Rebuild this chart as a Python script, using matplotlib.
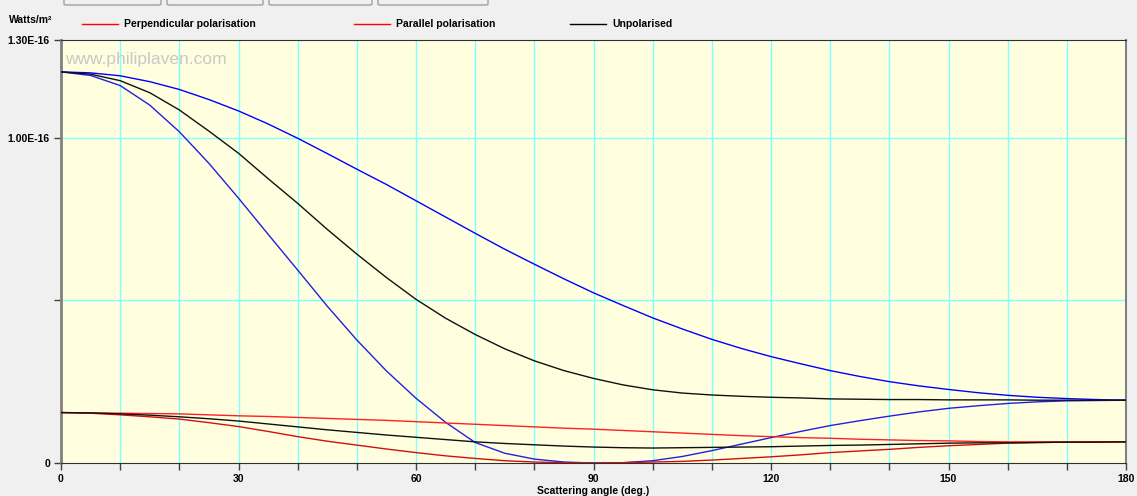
import numpy as np
import matplotlib.pyplot as plt
from matplotlib.patches import FancyBboxPatch

# scattering angle (deg.), every 5 degrees
angle = list(range(0, 181, 5))

# upper set (values in units of 1E-16 W/m^2)
blue_perp = [1.202, 1.199, 1.190, 1.172, 1.148, 1.117, 1.082, 1.042, 0.998, 0.951,
             0.903, 0.856, 0.806, 0.756, 0.706, 0.657, 0.611, 0.566, 0.523, 0.484,
             0.446, 0.412, 0.380, 0.352, 0.327, 0.305, 0.284, 0.266, 0.250, 0.237,
             0.226, 0.216, 0.208, 0.202, 0.198, 0.195, 0.193]
blue_par = [1.202, 1.191, 1.160, 1.100, 1.018, 0.921, 0.814, 0.703, 0.593, 0.482,
            0.378, 0.283, 0.199, 0.125, 0.063, 0.030, 0.012, 0.003, 0.000, 0.001,
            0.007, 0.020, 0.038, 0.058, 0.078, 0.097, 0.115, 0.130, 0.144, 0.157,
            0.168, 0.176, 0.183, 0.188, 0.191, 0.192, 0.193]
black_unpol = [1.202, 1.195, 1.175, 1.138, 1.085, 1.020, 0.952, 0.874, 0.798, 0.718,
               0.642, 0.570, 0.503, 0.445, 0.395, 0.351, 0.314, 0.284, 0.260, 0.240,
               0.225, 0.215, 0.209, 0.205, 0.202, 0.200, 0.197, 0.196, 0.195, 0.195,
               0.194, 0.194, 0.194, 0.193, 0.193, 0.193, 0.193]

# lower set
red_perp = [0.155, 0.154, 0.153, 0.152, 0.151, 0.148, 0.145, 0.143, 0.140, 0.137,
            0.134, 0.131, 0.127, 0.123, 0.119, 0.115, 0.111, 0.107, 0.104, 0.100,
            0.096, 0.092, 0.088, 0.084, 0.081, 0.078, 0.076, 0.073, 0.071, 0.069,
            0.068, 0.066, 0.065, 0.065, 0.065, 0.065, 0.065]
red_par = [0.155, 0.153, 0.148, 0.142, 0.135, 0.124, 0.112, 0.097, 0.081, 0.067,
           0.055, 0.043, 0.032, 0.022, 0.014, 0.007, 0.003, 0.001, 0.000, 0.001,
           0.003, 0.005, 0.009, 0.014, 0.019, 0.025, 0.032, 0.037, 0.042, 0.048,
           0.053, 0.057, 0.061, 0.063, 0.064, 0.065, 0.065]
black_unpol2 = [0.155, 0.154, 0.151, 0.147, 0.142, 0.136, 0.129, 0.120, 0.111, 0.102,
                0.094, 0.086, 0.079, 0.072, 0.065, 0.060, 0.056, 0.052, 0.049, 0.047,
                0.046, 0.047, 0.048, 0.049, 0.050, 0.052, 0.054, 0.055, 0.057, 0.059,
                0.061, 0.062, 0.062, 0.063, 0.064, 0.064, 0.065]

ytick_vals = [0, 0.5, 1.0, 1.3]
ytick_labels = ["0", "", "1.00E-16", "1.30E-16"]
xtick_vals = list(range(0, 181, 10))
xtick_labels = [str(v) if v % 30 == 0 else "" for v in xtick_vals]

legend_names = ["Perpendicular polarisation", "Parallel polarisation", "Unpolarised"]
legend_colors = ["#ff0000", "#ff0000", "#000000"]

narrow = ['Liberation Sans Narrow', 'Liberation Sans', 'DejaVu Sans']
plain = ['Liberation Sans', 'DejaVu Sans']

W, H = 1137, 496
fig = plt.figure(figsize=(W / 100, H / 100), dpi=100, facecolor='#f0f0f0')
ax = fig.add_axes([61 / W, 1 - 463 / H, (1126 - 61) / W, (463 - 40) / H])
ax.set_facecolor('#ffffe0')

for v in xtick_vals[1:-1]:
    ax.axvline(v, color='#80ffff', lw=1.0, zorder=1)
for v in [0.5, 1.0]:
    ax.axhline(v, color='#80ffff', lw=1.0, zorder=1)

lw = 1.0
ax.plot(angle, blue_perp, color='#0000ff', lw=lw, zorder=3)
ax.plot(angle, blue_par, color='#2020e0', lw=lw, zorder=3)
ax.plot(angle, black_unpol, color='#101010', lw=lw, zorder=3)
ax.plot(angle, red_perp, color='#ff2020', lw=lw, zorder=3)
ax.plot(angle, red_par, color='#d01010', lw=lw, zorder=3)
ax.plot(angle, black_unpol2, color='#101010', lw=lw, zorder=3)

ax.set_xlim(0, 180)
ax.set_ylim(0, 1.3)
ax.set_xticks(xtick_vals)
ax.set_xticklabels(xtick_labels)
ax.set_yticks(ytick_vals)
ax.set_yticklabels(ytick_labels)
ax.tick_params(direction='out', length=5, width=1, color='#404040', pad=3,
               labelsize=7.5)
for lab in ax.get_xticklabels() + ax.get_yticklabels():
    lab.set_fontweight('bold')
    lab.set_family(plain)

ax.spines['left'].set_color('#808080')
ax.spines['left'].set_linewidth(2)
ax.spines['bottom'].set_color('#303030')
ax.spines['top'].set_color('#303030')
ax.spines['right'].set_color('#808080')
ax.spines['right'].set_linewidth(1.5)

ax.set_xlabel("Scattering angle (deg.)", fontsize=7.5, fontweight='bold',
              family=narrow, labelpad=1)

ax.text(0.004, 0.955, "www.philiplaven.com", transform=ax.transAxes, fontsize=12.5,
        color='#c8c8c8', family=plain, va='center', ha='left')

fig.text(9 / W, 1 - 20 / H, "Watts/m²", fontsize=7.5, fontweight='bold',
         family=plain, va='center', ha='left')

# legend drawn across the top strip
leg_x = [82, 354, 570]
for x0, name, col in zip(leg_x, legend_names, legend_colors):
    y = 1 - 24 / H
    fig.add_artist(plt.Line2D([x0 / W, (x0 + 36) / W], [y, y], color=col, lw=1,
                              transform=fig.transFigure))
    fig.text((x0 + 42) / W, y, name, fontsize=7.5, fontweight='bold',
             family=narrow, va='center', ha='left')

# tab buttons at the very top
for x0, x1 in [(64, 161), (167, 263), (269, 372), (378, 488)]:
    fig.add_artist(FancyBboxPatch((x0 / W, 1 - 5 / H), (x1 - x0) / W, 8 / H,
                                  boxstyle='round,pad=0,rounding_size=0.002',
                                  transform=fig.transFigure, facecolor='#f0f0f0',
                                  edgecolor='#a0a0a0', lw=1))

fig.savefig("out.png", dpi=100, facecolor=fig.get_facecolor())
